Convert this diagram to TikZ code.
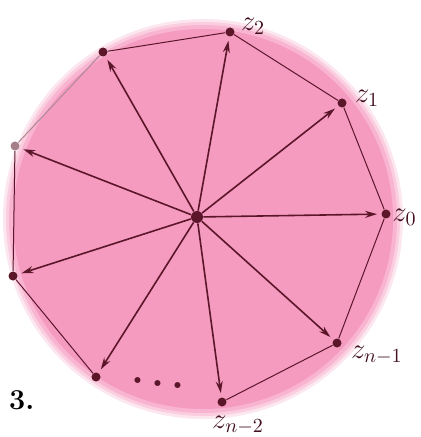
\documentclass[tikz,border=0pt]{standalone}
\usetikzlibrary{arrows.meta}
\definecolor{rosebg}{RGB}{245,155,192}
\definecolor{ink}{RGB}{92,22,42}

\begin{document}
\begin{tikzpicture}[x=0.5pt, y=-0.5pt,
	vert/.style={circle, fill=ink, inner sep=0pt, minimum size=4.5pt},
	side/.style={ink, line width=0.5pt},
	ray/.style={ink, line width=0.8pt, -{Stealth[length=6pt, width=3.5pt]}, shorten >=2pt},
	lbl/.style={text=ink!70!black, font=\Large}]
	\useasboundingbox (0, 0) rectangle (420, 437);
	% Disc behind the polygon, soft rim:
	\fill[rosebg!25] (203, 219) circle (200);
	\fill[rosebg!50] (203, 219) circle (197);
	\fill[rosebg!75] (203, 219) circle (194);
	\fill[rosebg] (203, 219) circle (190);
	% Vertices:
	\node[vert, minimum size=6pt] (c) at (197, 217){};
	\node[vert] (z0) at (386, 214){};
	\node[vert] (z1) at (342, 103){};
	\node[vert] (z2) at (230, 32){};
	\node[vert] (p3) at (103, 52){};
	\node[vert, fill=ink!55] (p4) at (15, 146){};
	\node[vert] (p5) at (13, 276){};
	\node[vert] (p6) at (96, 377){};
	\node[vert] (zm2) at (222, 402){};
	\node[vert] (zm1) at (337, 343){};
	% Sides:
	\draw[side] (z0) -- (z1) -- (z2) -- (p3);
	\draw[side, ink!50] (p3) -- (p4);
	\draw[side] (p4) -- (p5) -- (p6);
	\draw[side] (zm2) -- (zm1) -- (z0);
	% Rays from the centre:
	\draw[ray] (c) -- (z0);
	\draw[ray] (c) -- (z1);
	\draw[ray] (c) -- (z2);
	\draw[ray] (c) -- (p3);
	\draw[ray] (c) -- (p4);
	\draw[ray] (c) -- (p5);
	\draw[ray] (c) -- (p6);
	\draw[ray] (c) -- (zm2);
	\draw[ray] (c) -- (zm1);
	% Labels:
	\node[lbl, anchor=west, inner xsep=1pt] (l0) at (390, 217){$z_0$};
	\node[lbl, anchor=west] (l1) at (348, 98){$z_1$};
	\node[lbl, anchor=west] (l2) at (234, 26){$z_2$};
	\node[lbl, anchor=west] (lm1) at (344, 355){$z_{n-1}$};
	\node[lbl] (lm2) at (238, 425){$z_{n-2}$};
	\node[font=\huge\bfseries, text=ink] (gap) at (158, 383){.\,\raisebox{-1.5pt}{.}\,\raisebox{-2.5pt}{.}};
	\node[font=\Large\bfseries, anchor=west] (fig) at (2, 400){3.};
\end{tikzpicture}
\end{document}
